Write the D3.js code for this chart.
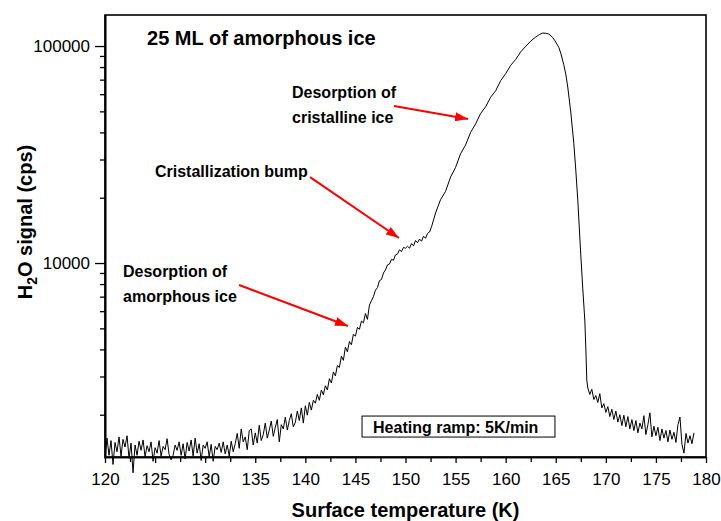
<!DOCTYPE html>
<html><head><meta charset="utf-8">
<script src="https://cdn.jsdelivr.net/npm/d3@7"></script>
<style>
html,body{margin:0;padding:0;background:#fff;}
svg{display:block;font-family:"Liberation Sans",Arial,sans-serif;}
</style></head>
<body><svg id="c" width="721" height="521"></svg>
<script>
// Temperature (K) of each sample
const temperatureK = [
 120.0,120.2,120.4,120.6,120.8, 121.0,121.2,121.4,121.6,121.8,
 122.0,122.2,122.4,122.6,122.8, 123.0,123.2,123.4,123.6,123.8,
 124.0,124.2,124.4,124.6,124.8, 125.0,125.2,125.4,125.6,125.8,
 126.0,126.2,126.4,126.6,126.8, 127.0,127.2,127.4,127.6,127.8,
 128.0,128.2,128.4,128.6,128.8, 129.0,129.2,129.4,129.6,129.8,
 130.0,130.2,130.4,130.6,130.8, 131.0,131.2,131.4,131.6,131.8,
 132.0,132.2,132.4,132.6,132.8, 133.0,133.2,133.4,133.6,133.8,
 134.0,134.2,134.4,134.6,134.8, 135.0,135.2,135.4,135.6,135.8,
 136.0,136.2,136.4,136.6,136.8, 137.0,137.2,137.4,137.6,137.8,
 138.0,138.2,138.4,138.6,138.8, 139.0,139.2,139.4,139.6,139.8,
 140.0,140.2,140.4,140.6,140.8, 141.0,141.2,141.4,141.6,141.8,
 142.0,142.2,142.4,142.6,142.8, 143.0,143.2,143.4,143.6,143.8,
 144.0,144.2,144.4,144.6,144.8, 145.0,145.2,145.4,145.6,145.8,
 146.0,146.2,146.4,146.6,146.8, 147.0,147.2,147.4,147.6,147.8,
 148.0,148.2,148.4,148.6,148.8, 149.0,149.2,149.4,149.6,149.8,
 150.0,150.2,150.4,150.6,150.8, 151.0,151.2,151.4,151.6,151.8,
 152.0,152.2,152.4,152.6,152.8, 153.0,
 153.5,154.0,154.5,155.0,155.5,156.0,156.5,157.0,157.5,158.0,
 158.5,159.0,159.5,160.0,160.5,161.0,161.5,162.0,162.5,163.0,
 163.4,163.7,164.0,164.3,164.7,165.0,165.3,165.5,165.8,166.0,
 166.2,166.5,166.8,167.0,167.2,167.5,167.7,167.9,168.0,168.1,
 168.2,168.4,168.6,168.8,
 169.0,169.2,169.4,169.6,169.8, 170.0,170.2,170.4,170.6,170.8,
 171.0,171.2,171.4,171.6,171.8, 172.0,172.2,172.4,172.6,172.8,
 173.0,173.2,173.4,173.6,173.8, 174.0,174.2,174.4,174.6,174.8,
 175.0,175.2,175.4,175.6,175.8, 176.0,176.2,176.4,176.6,176.8,
 177.0,177.2,177.4,177.6,177.8, 178.0,178.2,178.4,178.6,178.8
];
// H2O signal (cps) of each sample
const signalCps = [
 1250,1560,1300,1520,1180, 1490,1350,1580,1290,1540,
 1420,1600,1260,1480,1080, 1450,1300,1510,1370,1530,
 1280,1440,1350,1500,1220, 1410,1330,1520,1290,1430,
 1380,1550,1310,1240,1300, 1450,1370,1500,1300,1470,
 1250,1490,1360,1530,1290, 1560,1330,1470,1230,1450,
 1400,1500,1280,1460,1220, 1430,1380,1480,1340,1500,
 1320,1450,1290,1510,1350, 1470,1640,1400,1720,1500,
 1580,1380,1690,1720,1450, 1650,1480,1790,1520,1620,
 1830,1560,1700,1870,1590, 1750,1900,1500,1800,1720,
 1950,1700,1880,2020,1760, 1840,2080,1880,2150,1830,
 2200,1990,2280,2100,2330, 2260,2480,2330,2600,2470,
 2720,2600,2930,2800,3150, 3020,3370,3300,3720,3560,
 4100,3900,4350,4200,4700, 4600,5050,4950,5400,5300,
 5850,5500,6400,6700,7000, 7500,7700,8300,8400,9000,
 9300,9800,9900,10400,10300, 10900,11000,11500,11300,11800,
 11700,11950,11700,12300,12000, 12700,12400,12900,12600,13300,
 13000,13700,13900,14700,15800, 17000,
 19600,21400,24900,27600,31900,35000,40000,43800,48900,52500,
 58100,62200,69200,74600,81500,86700,94000,99600,105400,110000,
 113200,114800,114500,113600,109500,104300,98700,92830,82000,74300,
 64700,49640,35800,26840,19500,10890,7600,5462,4100,2890,
 2655,2480,2620,2350,
 2450,2280,2500,2150,2250, 2050,2180,1960,2120,1900,
 2080,1850,2000,1780,1990, 1760,1960,1720,1900,1690,
 1880,1650,1830,1720,1980, 1620,1800,2040,1580,1770,
 1600,1750,1520,1720,1560, 1690,1500,1700,1540,1660,
 1490,1800,1950,1460,1330, 1640,1480,1600,1470,1650
];
const xMajorTicks = [120,125,130,135,140,145,150,155,160,165,170,175,180];
const xMinorTicks = [122.5,127.5,132.5,137.5,142.5,147.5,152.5,157.5,162.5,167.5,172.5,177.5];
const yMajorTicks = [10000,100000];
const yMinorTicks = [2000,3000,4000,5000,6000,7000,8000,9000,20000,30000,40000,50000,60000,70000,80000,90000];
const xDomain = [120,180];
const yDomain = [1277,139000];

// annotations in data units: [T, cps]
const titleText = "25 ML of amorphous ice";
const titleAt = [124.2,101000];
const labels = [
  {lines:["Desorption of","cristalline ice"], at:[138.67,57600]},
  {lines:["Cristallization bump"], at:[124.99,24900]},
  {lines:["Desorption of","amorphous ice"], at:[121.8,8619]}
];
const arrows = [
  {from:[148.85,52900], to:[156.24,46090]},
  {from:[140.47,24900], to:[149.35,13040]},
  {from:[133.38,7918], to:[144.26,5126]}
];
const rampText = "Heating ramp: 5K/min";
const rampBox = {t0:145.66, t1:164.92, vTop:1972, vBottom:1578, textT:146.76, textV:1647};

const svg = d3.select("#c");
const L=105, R=706, T=15, B=457;
const x = d3.scaleLinear(xDomain,[L,R]);
const y = d3.scaleLog(yDomain,[B,T]);

// frame
svg.append("rect").attr("x",L).attr("y",T).attr("width",R-L).attr("height",B-T)
  .attr("fill","none").attr("stroke","#000").attr("stroke-width",1.6);

// data line
const pts = temperatureK.map((t,i)=>[t,signalCps[i]]);
svg.append("path").datum(pts)
  .attr("fill","none").attr("stroke","#000").attr("stroke-width",1)
  .attr("stroke-linejoin","round")
  .attr("d", d3.line().x(d=>x(d[0])).y(d=>y(d[1])));

// axes
const axStyle = g => {
  g.select(".domain").attr("stroke","#000").attr("stroke-width",1.6);
  g.selectAll(".tick line").attr("stroke","#000").attr("stroke-width",1.3);
  g.selectAll("text").attr("fill","#000").style("font-size","17px")
   .style("font-family","'Liberation Sans',Arial,sans-serif");
};
svg.append("g").attr("transform",`translate(0,${B})`)
  .call(d3.axisBottom(x).tickValues(xMajorTicks).tickSize(6).tickSizeOuter(0).tickPadding(10).tickFormat(d3.format("d")))
  .call(axStyle);
svg.append("g").attr("transform",`translate(0,${B})`)
  .call(d3.axisBottom(x).tickValues(xMinorTicks).tickSize(5).tickSizeOuter(0).tickFormat(""))
  .call(axStyle);
svg.append("g").attr("transform",`translate(${L},0)`)
  .call(d3.axisLeft(y).tickValues(yMajorTicks).tickSize(10).tickSizeOuter(0).tickPadding(5).tickFormat(d3.format("d")))
  .call(axStyle);
svg.append("g").attr("transform",`translate(${L},0)`)
  .call(d3.axisLeft(y).tickValues(yMinorTicks).tickSize(5).tickSizeOuter(0).tickFormat(""))
  .call(axStyle);

// axis titles
svg.append("text").attr("x",(L+R)/2).attr("y",517).attr("text-anchor","middle")
  .style("font-size","20px").style("font-weight","bold").text("Surface temperature (K)");
const yl = svg.append("text").attr("transform","translate(32,222) rotate(-90)")
  .attr("text-anchor","middle").style("font-size","20px").style("font-weight","bold");
yl.append("tspan").text("H");
yl.append("tspan").attr("dy",5).style("font-size","14px").text("2");
yl.append("tspan").attr("dy",-5).text("O signal (cps)");

// title
svg.append("text").attr("x",x(titleAt[0])).attr("y",y(titleAt[1]))
  .style("font-size","20px").style("font-weight","bold").text(titleText);

// labels
labels.forEach(l=>{
  const t = svg.append("text").attr("x",x(l.at[0])).attr("y",y(l.at[1]))
    .style("font-size","16px").style("font-weight","bold");
  l.lines.forEach((s,i)=>t.append("tspan").attr("x",x(l.at[0])).attr("dy",i?25:0).text(s));
});

// arrows
svg.append("defs").append("marker").attr("id","ah").attr("markerUnits","userSpaceOnUse")
  .attr("markerWidth",13).attr("markerHeight",9).attr("refX",13).attr("refY",4.5)
  .attr("orient","auto").append("path").attr("d","M0,0 L13,4.5 L0,9 Z").attr("fill","#ff0000");
arrows.forEach(a=>{
  svg.append("line").attr("x1",x(a.from[0])).attr("y1",y(a.from[1]))
    .attr("x2",x(a.to[0])).attr("y2",y(a.to[1]))
    .attr("stroke","#ff0000").attr("stroke-width",2).attr("marker-end","url(#ah)");
});

// heating ramp box
svg.append("rect").attr("x",x(rampBox.t0)).attr("y",y(rampBox.vTop))
  .attr("width",x(rampBox.t1)-x(rampBox.t0)).attr("height",y(rampBox.vBottom)-y(rampBox.vTop))
  .attr("fill","#fff").attr("stroke","#000").attr("stroke-width",1);
svg.append("text").attr("x",x(rampBox.textT)).attr("y",y(rampBox.textV))
  .style("font-size","16px").style("font-weight","bold").text(rampText);
</script></body></html>
